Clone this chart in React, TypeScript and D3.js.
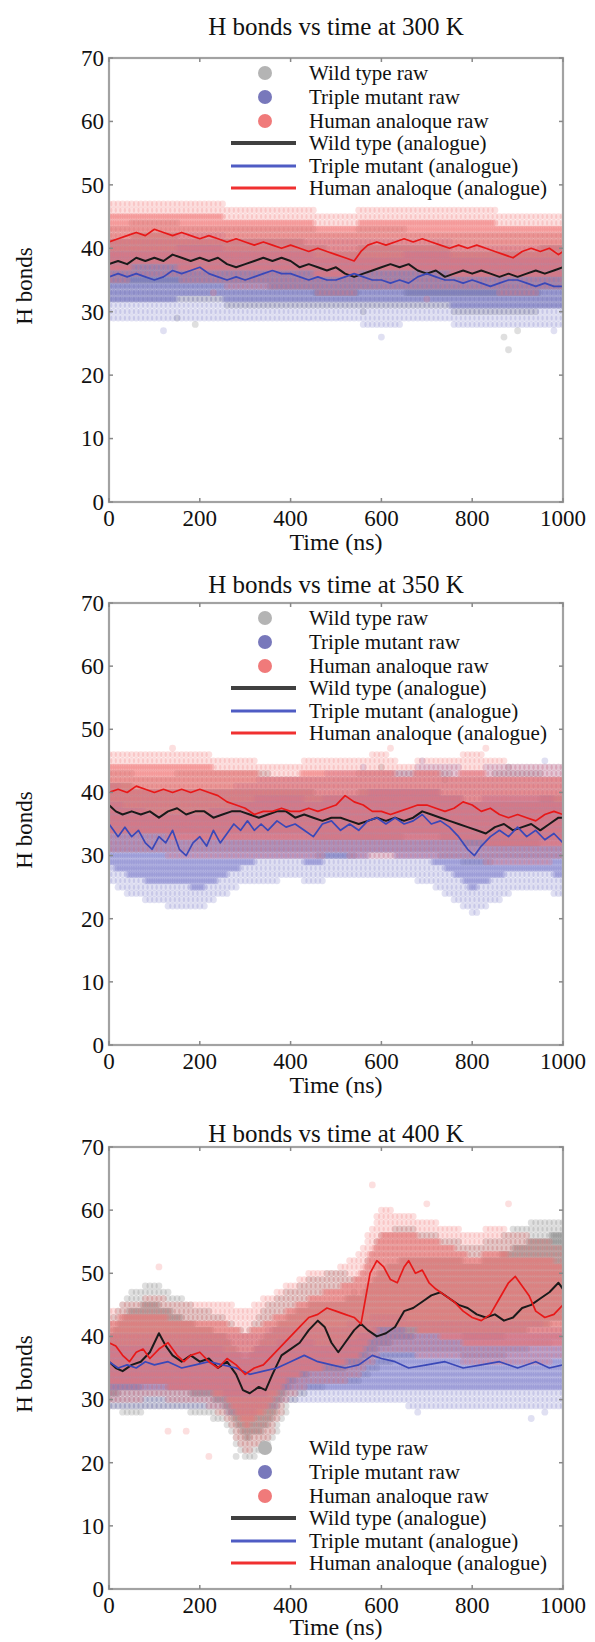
import React, { useEffect, useRef } from "react";
import * as d3 from "d3";

const TIME_TICKS = [0, 200, 400, 600, 800, 1000];
const HB_TICKS = [0, 10, 20, 30, 40, 50, 60, 70];
const TITLES = ["H bonds vs time at 300 K", "H bonds vs time at 350 K", "H bonds vs time at 400 K"];
const X_LABEL = "Time (ns)";
const Y_LABEL = "H bonds";
const LEGEND_LABELS = [
  "Wild type raw",
  "Triple mutant raw",
  "Human analoque raw",
  "Wild type (analogue)",
  "Triple mutant (analogue)",
  "Human analoque (analogue)",
];

// ---------- smoothed ("analogue") lines: [time ns, H bonds] ----------
const WT_300 = [[0,37.5],[20,38],[40,37.5],[60,38.5],[80,38],[100,38.5],[120,38],[140,39],[160,38.5],[180,38],[200,38.5],[220,38],[240,38.5],[260,37.5],[280,37],[300,37.5],[320,38],[340,38.5],[360,38],[380,38.5],[400,38],[420,37],[440,37.5],[460,37],[480,36.5],[500,37],[520,36],[540,35.5],[560,36],[580,36.5],[600,37],[620,37.5],[640,37],[660,37.5],[680,36.5],[700,36],[720,36.5],[740,35.5],[760,36],[780,36.5],[800,36],[820,36.5],[840,36],[860,35.5],[880,36],[900,35.5],[920,36],[940,36.5],[960,36],[980,36.5],[1000,37]];
const TM_300 = [[0,35.5],[20,36],[40,35.5],[60,36],[80,35.5],[100,35],[120,35.5],[140,36.5],[160,36],[180,36.5],[200,37],[220,36],[240,35.5],[260,35],[280,35.5],[300,35],[320,35.5],[340,36],[360,36.5],[380,36],[400,36],[420,35.5],[440,35],[460,35.5],[480,35],[500,35],[520,35.5],[540,36],[560,35.5],[580,35],[600,35],[620,34.5],[640,35],[660,34.5],[680,35.5],[700,36],[720,35.5],[740,35],[760,35],[780,34.5],[800,35],[820,34.5],[840,34],[860,34.5],[880,35],[900,35],[920,34.5],[940,34],[960,34.5],[980,34],[1000,34]];
const HA_300 = [[0,41],[20,41.5],[40,42],[60,42.5],[80,42],[100,43],[120,42.5],[140,42],[160,42.5],[180,42],[200,41.5],[220,42],[240,41.5],[260,41],[280,41.5],[300,41],[320,40.5],[340,41],[360,40.5],[380,40],[400,40.5],[420,40],[440,39.5],[460,40],[480,39.5],[500,39],[520,38.5],[540,38],[555,39.5],[570,40.5],[590,41],[610,40.5],[630,41],[650,41.5],[670,41],[690,41.5],[710,41],[730,40.5],[750,40],[770,40.5],[790,40],[810,40.5],[830,40],[850,39.5],[870,39],[890,38.5],[910,39.5],[930,40],[950,39.5],[970,40],[990,39],[1000,39.5]];

const WT_350 = [[0,38],[15,37],[30,36.5],[50,37],[70,36.5],[90,37],[110,36],[130,37],[150,37.5],[170,36.5],[190,37],[210,37],[230,36],[250,36.5],[270,37],[290,37],[310,36.5],[330,36],[350,36.5],[370,37],[390,37],[410,36],[430,36.5],[450,36],[470,35.5],[490,36],[510,36],[530,35.5],[550,35],[570,35.5],[590,36],[610,35.5],[630,36],[650,35.5],[670,36],[690,37],[710,36.5],[730,36],[750,35.5],[770,35],[790,34.5],[810,34],[830,33.5],[850,34.5],[870,35],[890,34],[910,34.5],[930,35],[950,34],[970,35],[990,36],[1000,36]];
const TM_350 = [[0,35],[10,34],[20,33],[35,34.5],[50,33],[65,34],[80,32],[95,31],[110,33],[125,32],[140,34],[155,31],[170,30],[185,32],[200,33],[215,31.5],[230,34],[245,32],[260,33.5],[275,35],[290,34],[305,35.5],[320,34],[335,35],[350,34],[370,35.5],[390,34.5],[410,35],[430,34],[450,33],[470,35],[490,35.5],[510,34],[530,35],[550,34],[570,35.5],[590,36],[610,35],[630,36],[650,35],[670,35.5],[690,36.5],[710,35],[730,35.5],[750,34.5],[770,33],[790,31],[805,30],[820,31.5],[840,33],[860,34],[880,33],[900,34.5],[920,33],[940,34],[960,32.5],[980,33.5],[1000,32]];
const HA_350 = [[0,40],[20,40.5],[40,40],[60,41],[80,40.5],[100,40],[120,40.5],[140,40],[160,40.5],[180,40],[200,40.5],[220,40],[240,39.5],[260,38.5],[280,38],[300,37.5],[320,36.5],[340,37],[360,37],[380,37.5],[400,37],[420,37],[440,37.5],[460,37],[480,37.5],[500,38],[520,39.5],[540,38.5],[560,38],[580,37],[600,37],[620,36.5],[640,37],[660,37.5],[680,38],[700,38],[720,37.5],[740,37],[760,37.5],[780,38.5],[800,38],[820,37],[840,37.5],[860,36.5],[880,36],[900,36.5],[920,36],[940,35.5],[960,36.5],[980,37],[1000,36.5]];

const WT_400 = [[0,36],[15,35],[30,34.5],[50,35.5],[70,36],[90,37.5],[110,40.5],[125,38.5],[140,37],[160,36],[180,37],[200,36],[220,36.5],[240,35],[260,36],[280,34],[295,31.5],[310,31],[330,32],[345,31.5],[360,34],[380,37],[400,38],[420,39],[440,41],[460,42.5],[475,41.5],[490,39],[505,37.5],[520,39],[540,41],[555,42],[570,41],[590,40],[610,40.5],[630,41.5],[650,44],[670,44.5],[690,45.5],[710,46.5],[730,47],[750,46],[770,45],[790,44.5],[810,43.5],[830,43],[850,43.5],[870,42.5],[890,43],[910,44.5],[930,45],[950,46],[970,47],[990,48.5],[1000,47.5]];
const TM_400 = [[0,36],[20,35],[40,35.5],[60,35],[80,36],[100,35.5],[130,36],[160,35],[190,35.5],[220,36],[250,35.5],[280,35],[310,34],[340,34.5],[370,35],[400,36],[430,37],[460,36],[490,35.5],[520,35],[550,35.5],[580,37],[600,36.5],[630,36],[660,35],[700,35.5],[740,36],[780,35],[820,35.5],[860,36],[900,35],[940,36],[970,35],[1000,35.5]];
const HA_400 = [[0,39],[15,38.5],[30,37],[45,36],[60,37.5],[75,38],[90,36.5],[110,38],[130,39],[150,37],[165,36],[180,37],[200,37.5],[220,36],[240,35],[260,36.5],[280,35.5],[300,34],[320,35],[340,35.5],[360,37],[380,38.5],[400,40],[420,41.5],[440,43],[460,43.5],[480,44.5],[500,44],[520,43.5],[540,43],[555,42],[565,46],[575,50],[590,52],[605,51],[620,49],[635,48.5],[650,51],[660,52],[675,50],[690,50.5],[705,48.5],[720,47.5],[740,46.5],[760,45.5],[780,44],[800,43],[820,42.5],[840,43.5],[860,46],[880,48.5],[895,49.5],[910,48],[925,46.5],[940,44],[960,43],[980,43.5],[1000,45]];

// ---------- raw scatter envelopes: [time ns, outer low, core low, core high, outer high] ----------
const WT_RAW_300 = [[0,32,35,41,43],[100,32,35,42,44],[200,32,35,41,43],[300,31,35,41,43],[400,31,34,41,43],[500,31,33,39,42],[600,31,34,40,43],[700,31,33,40,42],[800,30,33,39,42],[900,30,33,39,42],[1000,31,34,40,42]];
const TM_RAW_300 = [[0,29,32,39,41],[100,29,32,39,41],[200,29,33,40,42],[300,29,32,39,41],[400,29,32,39,41],[500,29,32,38,41],[600,28,32,38,41],[700,29,32,39,41],[800,28,31,38,40],[900,28,31,38,40],[1000,28,31,38,40]];
const HA_RAW_300 = [[0,35,37,45,47],[100,36,38,45,47],[200,35,37,45,47],[300,34,37,44,46],[400,34,37,44,46],[500,33,36,43,45],[600,34,37,44,46],[700,34,37,44,46],[800,34,36,44,46],[900,33,36,43,45],[1000,34,36,43,45]];

const WT_RAW_350 = [[0,31,34,41,43],[100,31,34,40,42],[200,31,34,40,43],[300,31,34,40,43],[400,31,34,40,42],[500,30,33,39,42],[600,31,33,40,43],[700,31,34,40,43],[800,29,32,38,42],[900,30,32,38,43],[1000,30,33,39,42]];
const TM_RAW_350 = [[0,26,29,38,41],[50,24,27,37,40],[100,23,26,36,40],[150,22,26,36,40],[200,22,25,36,40],[250,24,27,37,40],[300,26,29,38,41],[350,26,30,39,42],[400,27,30,39,42],[450,26,29,38,42],[500,27,30,39,43],[550,27,30,39,43],[600,27,31,40,43],[650,27,30,40,43],[700,26,30,40,44],[750,24,28,39,44],[800,21,25,38,43],[850,23,27,39,44],[900,25,28,39,44],[950,25,28,39,44],[1000,24,27,38,44]];
const HA_RAW_350 = [[0,31,34,44,46],[50,31,34,44,46],[100,31,34,44,46],[150,30,33,44,46],[200,30,33,44,46],[250,30,33,43,45],[300,30,33,43,45],[350,30,33,42,44],[400,30,33,42,44],[450,30,33,43,45],[500,31,33,43,45],[550,30,33,43,45],[600,30,33,43,46],[650,30,33,42,44],[700,30,33,43,45],[750,30,33,42,45],[800,30,33,43,46],[850,29,32,42,45],[900,29,32,42,44],[950,29,32,42,44],[1000,30,32,42,44]];

const WT_RAW_400 = [[0,29,31,40,42],[50,28,32,44,47],[100,29,33,45,48],[150,29,32,43,46],[200,28,31,41,44],[250,27,30,40,43],[300,21,24,36,40],[350,22,26,40,45],[400,30,33,43,47],[450,32,35,45,49],[500,33,35,45,50],[550,33,36,46,49],[600,36,39,50,56],[650,37,40,52,57],[700,38,41,52,56],[750,38,41,52,55],[800,37,40,51,54],[850,37,40,52,55],[900,38,41,54,57],[950,39,42,55,58],[1000,40,43,56,58]];
const TM_RAW_400 = [[0,29,32,38,40],[100,29,32,38,40],[200,29,32,38,40],[300,28,31,37,40],[400,30,32,39,41],[500,30,32,38,41],[600,30,32,41,43],[700,29,32,40,42],[800,29,32,40,42],[900,29,32,40,42],[1000,29,32,40,41]];
const HA_RAW_400 = [[0,30,33,42,44],[50,30,33,43,45],[100,31,33,43,46],[150,30,32,42,45],[200,30,32,42,45],[250,28,31,42,45],[300,22,26,40,44],[350,24,29,42,46],[400,31,34,44,48],[450,33,35,46,50],[500,33,36,47,50],[550,34,37,49,53],[600,38,42,56,60],[650,38,42,56,59],[700,37,41,55,58],[750,37,40,54,57],[800,36,39,52,56],[850,36,39,53,57],[900,36,39,52,56],[950,36,39,52,55],[1000,37,39,51,54]];

// ---------- isolated raw points: [time ns, H bonds] ----------
const WT_OUT_300 = [[150,29],[190,28],[870,26],[880,24],[900,27],[560,30]];
const TM_OUT_300 = [[120,27],[600,26],[980,27]];
const HA_OUT_300 = [[230,33],[700,32]];
const WT_OUT_350 = [[600,44],[740,42],[880,44]];
const TM_OUT_350 = [[560,44],[690,45],[960,45]];
const HA_OUT_350 = [[140,47],[620,47],[830,47]];
const WT_OUT_400 = [[280,21],[340,23],[540,47]];
const TM_OUT_400 = [[680,28],[930,27],[960,28]];
const HA_OUT_400 = [[580,64],[700,61],[880,61],[110,51],[220,21],[130,25],[170,25]];

const PANEL_DATA = [
  { raw: [WT_RAW_300, TM_RAW_300, HA_RAW_300], out: [WT_OUT_300, TM_OUT_300, HA_OUT_300], lines: [WT_300, TM_300, HA_300] },
  { raw: [WT_RAW_350, TM_RAW_350, HA_RAW_350], out: [WT_OUT_350, TM_OUT_350, HA_OUT_350], lines: [WT_350, TM_350, HA_350] },
  { raw: [WT_RAW_400, TM_RAW_400, HA_RAW_400], out: [WT_OUT_400, TM_OUT_400, HA_OUT_400], lines: [WT_400, TM_400, HA_400] },
];

// ---------- layout & style ----------
const W = 595, H = 1642;
const LEFT = 109, RIGHT = 563;
const LAYOUT = [
  { top: 58, bottom: 502, titleY: 35, legendTop: 73, xLabelY: 550 },
  { top: 603, bottom: 1045, titleY: 593, legendTop: 618, xLabelY: 1093 },
  { top: 1147, bottom: 1589, titleY: 1142, legendTop: 1448, xLabelY: 1635 },
];
const LEGEND_OFFSETS = [0, 24, 48, 70, 93, 115];
const DOT_COLORS = ["#858585", "#7474c6", "#f27878"];
const DOT_OPACITY = [
  [0.4, 0.26],
  [0.32, 0.22],
  [0.36, 0.24],
];
const LEGEND_DOT_COLORS = ["#b4b4b4", "#7878bb", "#f07a7a"];
const LINE_COLORS = ["#1a1a1a", "#3a48b8", "#e81818"];
const LEGEND_LINE_COLORS = ["#404040", "#4f5cc4", "#f03030"];
const LEGEND_LINE_WIDTHS = [4, 3, 3];
const FONT = "'Liberation Serif', 'Times New Roman', serif";
const AXIS_COLOR = "#a2a2a2";

function envAt(env: number[][], t: number) {
  for (let i = 0; i < env.length - 1; i++) {
    const a = env[i], b = env[i + 1];
    if (t >= a[0] && t <= b[0]) {
      const f = (t - a[0]) / (b[0] - a[0]);
      return [1, 2, 3, 4].map((k) => a[k] + (b[k] - a[k]) * f);
    }
  }
  return env[env.length - 1].slice(1);
}

function Panel({ idx }: { idx: number }) {
  const L = LAYOUT[idx];
  const D = PANEL_DATA[idx];
  const gRef = useRef<SVGGElement>(null);
  const x = d3.scaleLinear().domain([0, 1000]).range([LEFT, RIGHT]);
  const y = d3.scaleLinear().domain([0, 70]).range([L.bottom, L.top]);
  const line = d3.line<number[]>().x((d) => x(d[0])).y((d) => y(d[1]));
  const clipId = `clip${idx}`;

  useEffect(() => {
    const g = d3.select(gRef.current);
    g.selectAll("*").remove();
    D.raw.forEach((env, s) => {
      const pts: number[][] = [];
      for (let t = 0; t <= 1000; t += 5) {
        const [oLo, cLo, cHi, oHi] = envAt(env, t);
        const ol = Math.round(oLo), cl = Math.round(cLo), ch = Math.round(cHi), oh = Math.round(oHi);
        for (let v = ol; v <= oh; v++) {
          const core = v >= cl && v <= ch;
          if (core || t % 10 === 0) pts.push([t, v, core ? 1 : 0]);
        }
      }
      D.out[s].forEach((p) => pts.push([p[0], p[1], 0]));
      g.append("g")
        .selectAll("circle")
        .data(pts)
        .join("circle")
        .attr("cx", (d) => x(d[0]))
        .attr("cy", (d) => y(d[1]))
        .attr("r", 3.4)
        .attr("fill", DOT_COLORS[s])
        .attr("fill-opacity", (d) => (d[2] ? DOT_OPACITY[s][0] : DOT_OPACITY[s][1]));
    });
  }, [idx]);

  return (
    <g>
      <defs>
        <clipPath id={clipId}>
          <rect x={LEFT} y={L.top} width={RIGHT - LEFT} height={L.bottom - L.top} />
        </clipPath>
      </defs>
      <text x={(LEFT + RIGHT) / 2} y={L.titleY} textAnchor="middle" fontFamily={FONT} fontSize={25} fill="#111">
        {TITLES[idx]}
      </text>
      <g clipPath={`url(#${clipId})`}>
        <g ref={gRef} />
        {D.lines.map((ln, s) => (
          <path key={s} d={line(ln as number[][]) || ""} fill="none" stroke={LINE_COLORS[s]} strokeWidth={s === 0 ? 2 : 1.7} strokeLinejoin="round" />
        ))}
      </g>
      <rect x={LEFT} y={L.top} width={RIGHT - LEFT} height={L.bottom - L.top} fill="none" stroke={AXIS_COLOR} strokeWidth={2.2} />
      {TIME_TICKS.map((t) => (
        <g key={"xt" + t}>
          <line x1={x(t)} x2={x(t)} y1={L.bottom} y2={L.bottom - 4} stroke="#888" strokeWidth={1.5} />
          <line x1={x(t)} x2={x(t)} y1={L.top} y2={L.top + 4} stroke="#888" strokeWidth={1.5} />
          <text x={x(t)} y={L.bottom + 24} textAnchor="middle" fontFamily={FONT} fontSize={23} fill="#111">
            {t}
          </text>
        </g>
      ))}
      {HB_TICKS.map((v) => (
        <g key={"yt" + v}>
          <line x1={LEFT} x2={LEFT + 4} y1={y(v)} y2={y(v)} stroke="#888" strokeWidth={1.5} />
          <line x1={RIGHT} x2={RIGHT - 4} y1={y(v)} y2={y(v)} stroke="#888" strokeWidth={1.5} />
          <text x={LEFT - 5} y={y(v)} dy="0.34em" textAnchor="end" fontFamily={FONT} fontSize={23} fill="#111">
            {v}
          </text>
        </g>
      ))}
      <text x={(LEFT + RIGHT) / 2} y={L.xLabelY} textAnchor="middle" fontFamily={FONT} fontSize={24} fill="#111">
        {X_LABEL}
      </text>
      <text
        transform={`translate(32, ${(L.top + L.bottom) / 2 + 6}) rotate(-90)`}
        textAnchor="middle"
        fontFamily={FONT}
        fontSize={23}
        fill="#111"
      >
        {Y_LABEL}
      </text>
      {LEGEND_LABELS.map((lab, i) => {
        const ry = L.legendTop + LEGEND_OFFSETS[i];
        return (
          <g key={lab}>
            {i < 3 ? (
              <circle cx={LEFT + 156} cy={ry} r={7} fill={LEGEND_DOT_COLORS[i]} />
            ) : (
              <line x1={LEFT + 122} x2={LEFT + 187} y1={ry} y2={ry} stroke={LEGEND_LINE_COLORS[i - 3]} strokeWidth={LEGEND_LINE_WIDTHS[i - 3]} />
            )}
            <text x={LEFT + 200} y={ry} dy="0.32em" fontFamily={FONT} fontSize={21} fill="#111">
              {lab}
            </text>
          </g>
        );
      })}
    </g>
  );
}

export default function App() {
  return (
    <svg width={W} height={H} style={{ position: "absolute", left: 0, top: 0, background: "#fff" }}>
      <rect x={0} y={0} width={W} height={H} fill="#fff" />
      {[0, 1, 2].map((i) => (
        <Panel key={i} idx={i} />
      ))}
    </svg>
  );
}
